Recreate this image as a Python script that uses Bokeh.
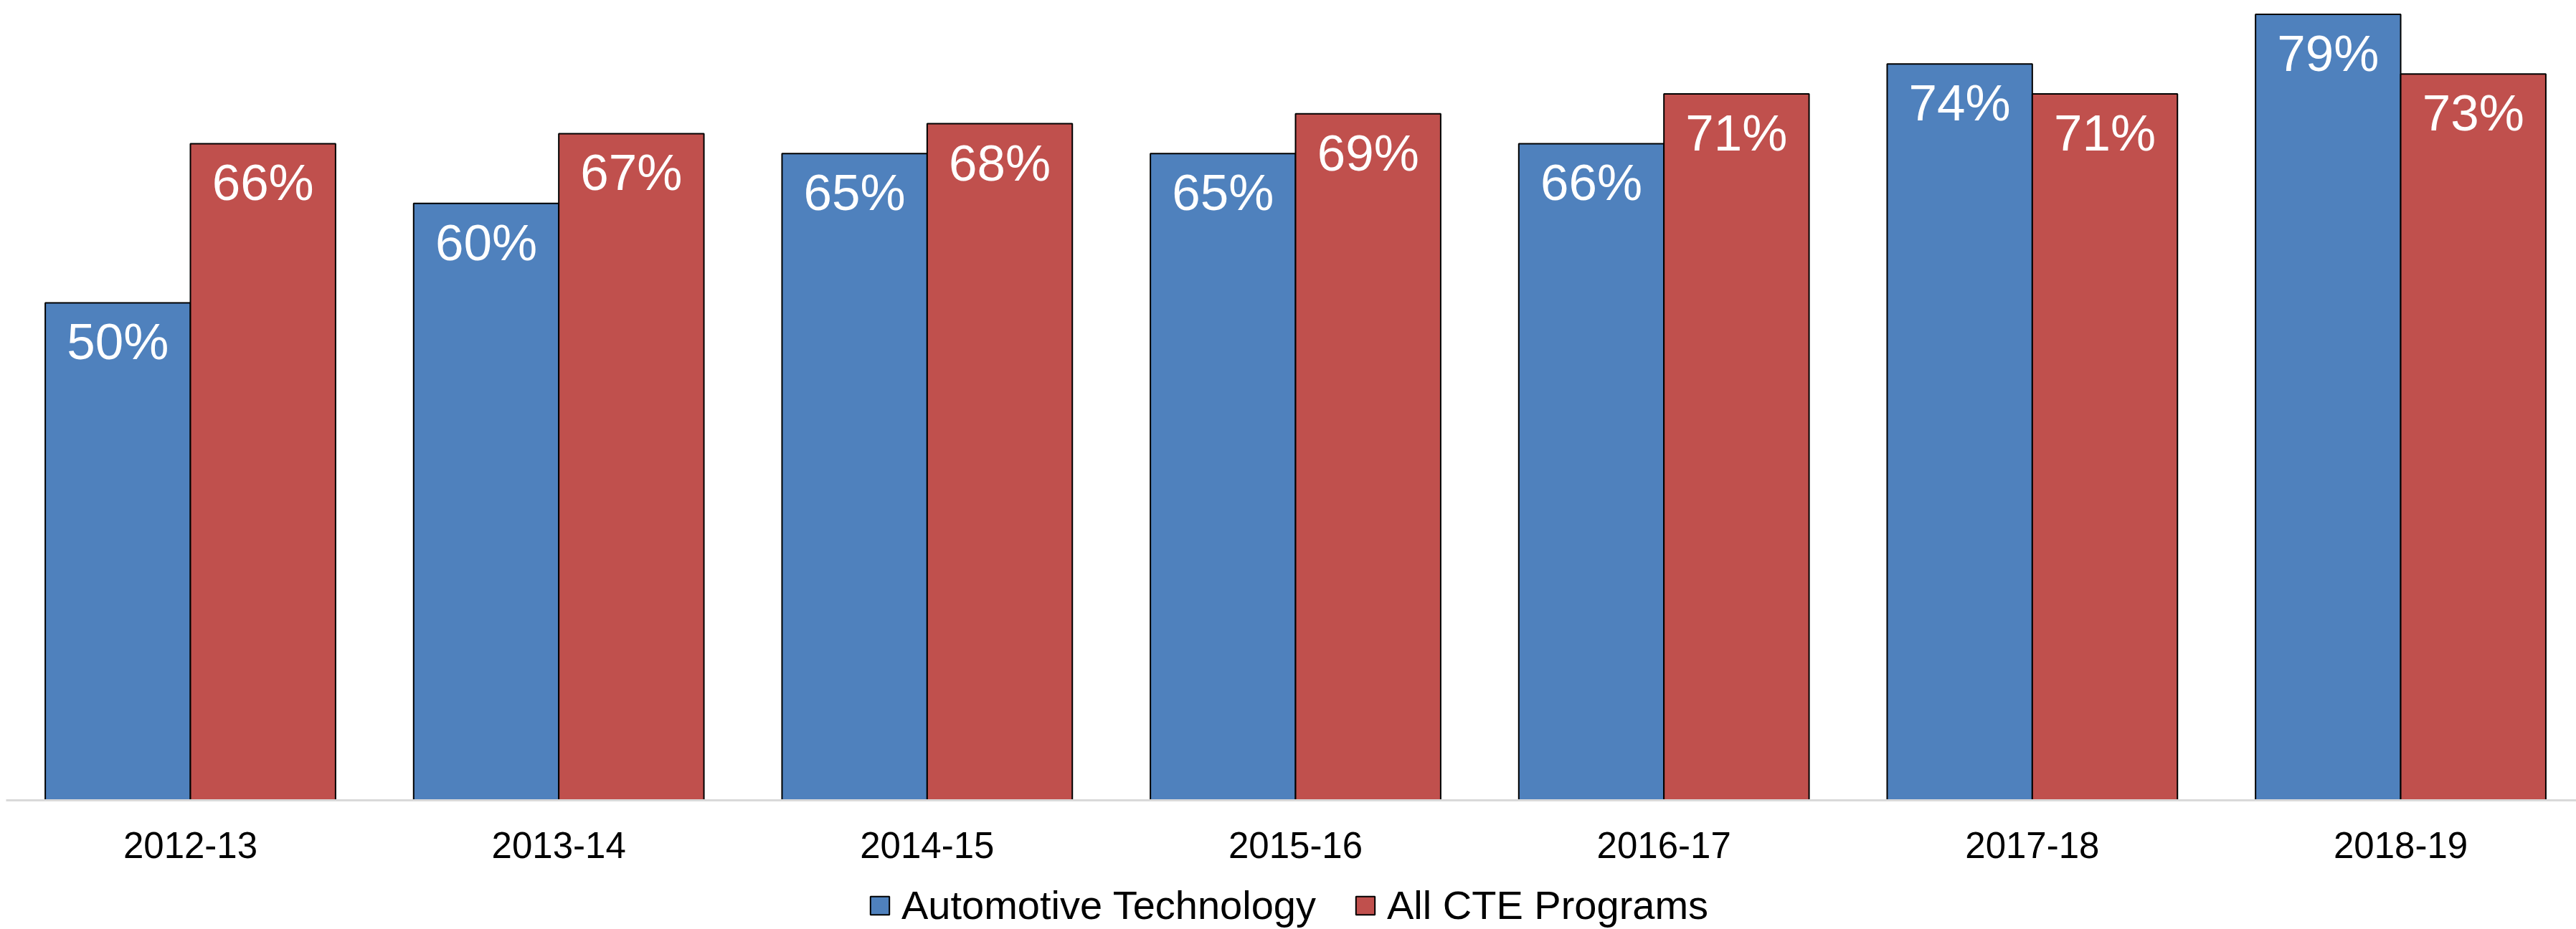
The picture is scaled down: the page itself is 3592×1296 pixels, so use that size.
from bokeh.plotting import figure
from bokeh.models import (Range1d, FixedTicker, ColumnDataSource, LabelSet,
                          Legend, LegendItem, LinearAxis)
from bokeh.core.properties import value
from bokeh.transform import dodge
from bokeh.embed import file_html
from bokeh.resources import INLINE

# ---- data ----
years = ["2012-13", "2013-14", "2014-15", "2015-16", "2016-17", "2017-18", "2018-19"]
automotive = [0.50, 0.60, 0.65, 0.65, 0.66, 0.74, 0.79]
all_cte = [0.66, 0.67, 0.68, 0.69, 0.71, 0.71, 0.73]
series_names = ["Automotive Technology", "All CTE Programs"]
colors = ["#4F81BD", "#C0504D"]

FONT = "Liberation Sans"
BAR_W = 0.394
OFF = BAR_W / 2
W, H = 3592, 1296
X0, X1 = -0.5159, 6.4769
Y0, Y1 = -0.1297, 0.8040

src = ColumnDataSource(dict(
    i=list(range(len(years))),
    auto=automotive,
    cte=all_cte,
    auto_lbl=[f"{round(v * 100)}%" for v in automotive],
    cte_lbl=[f"{round(v * 100)}%" for v in all_cte],
))

p = figure(width=W, height=H,
           x_range=Range1d(X0, X1), y_range=Range1d(Y0, Y1),
           output_backend="svg", toolbar_location=None,
           x_axis_location=None, y_axis_location=None, min_border=0)
p.outline_line_color = None
p.xgrid.visible = False
p.ygrid.visible = False

r1 = p.vbar(x=dodge("i", -OFF), top="auto", bottom=0, width=BAR_W, source=src,
            fill_color=colors[0], line_color="black", line_width=2)
r2 = p.vbar(x=dodge("i", OFF), top="cte", bottom=0, width=BAR_W, source=src,
            fill_color=colors[1], line_color="black", line_width=2)

for xf, yf, tf in [(dodge("i", -OFF), "auto", "auto_lbl"), (dodge("i", OFF), "cte", "cte_lbl")]:
    p.add_layout(LabelSet(x=xf, y=yf, text=tf, source=src, y_offset=-15,
                          text_align="center", text_baseline="top",
                          text_color="white", text_font=value(FONT),
                          text_font_size=value("71px")))

ax = LinearAxis(fixed_location=0)
ax.bounds = (X0 + (X1 - X0) * 8 / W, X1)
ax.ticker = FixedTicker(ticks=list(range(len(years))))
ax.major_label_overrides = {i: y for i, y in enumerate(years)}
ax.major_tick_line_color = None
ax.minor_tick_line_color = None
ax.major_tick_out = 0
ax.major_tick_in = 0
ax.minor_tick_out = 0
ax.minor_tick_in = 0
ax.axis_label_standoff = 0
ax.axis_line_color = "#D9D9D9"
ax.axis_line_width = 3
ax.major_label_text_font = FONT
ax.major_label_text_font_size = "51px"
ax.major_label_text_color = "black"
ax.major_label_standoff = 45
p.add_layout(ax, "below")

legend = Legend(items=[LegendItem(label=series_names[0], renderers=[r1]),
                       LegendItem(label=series_names[1], renderers=[r2])],
                orientation="horizontal", location=(1210, 1),
                label_text_font=FONT, label_text_font_size="56px",
                label_text_color="black",
                glyph_width=33, glyph_height=32, label_standoff=14,
                spacing=52, padding=0, margin=0,
                border_line_color=None, background_fill_alpha=0)
p.add_layout(legend)

open("out.html", "w").write(file_html(p, INLINE))
